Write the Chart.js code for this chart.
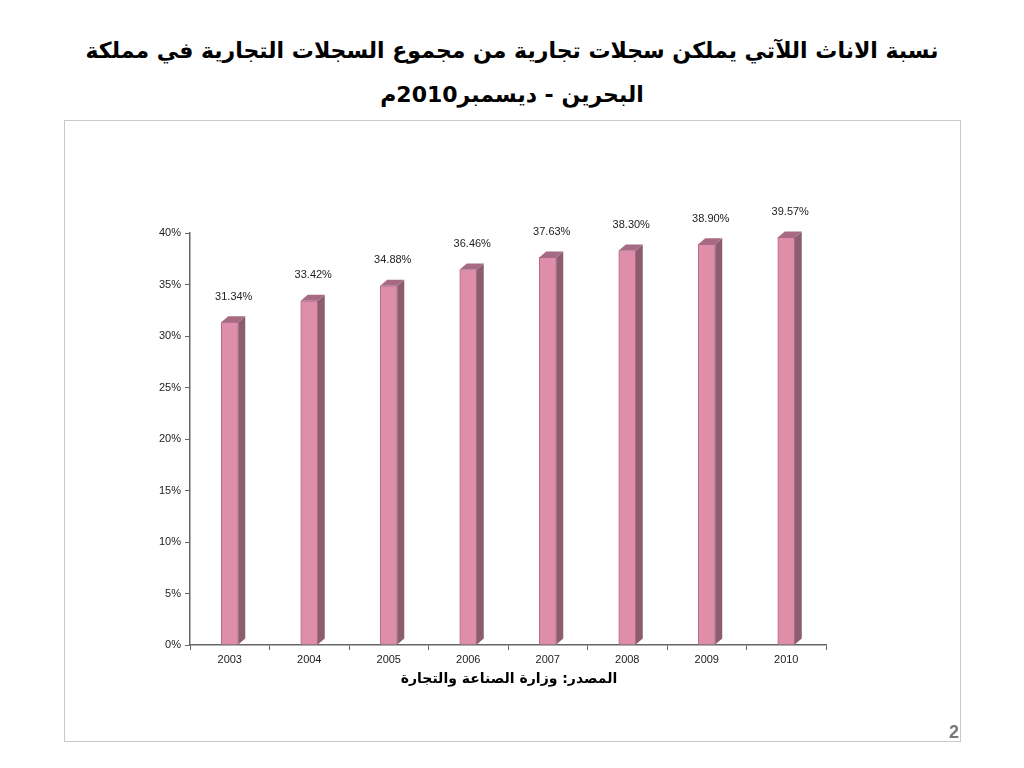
<!DOCTYPE html>
<html>
<head>
<meta charset="utf-8">
<script src="https://cdn.jsdelivr.net/npm/chart.js@4/dist/chart.umd.min.js"></script>
<style>
    html, body { margin: 0; padding: 0; background: #fff; }
    body { width: 1024px; height: 768px; position: relative; overflow: hidden; }
    .title {
        position: absolute; left: 40px; top: 29px; width: 944px;
        text-align: center; direction: rtl;
        font-family: "DejaVu Sans", sans-serif; font-weight: bold;
        font-size: 22px; line-height: 44px; color: #000;
    }
    .frame {
        position: absolute; left: 64px; top: 120px; width: 895px; height: 620px;
        border: 1px solid #c8c8c8;
    }
    #chartWrap { position: absolute; left: 64px; top: 120px; width: 896px; height: 621px; }
    .source {
        position: absolute; left: 300px; top: 670px; width: 418px;
        text-align: center; direction: rtl;
        font-family: "DejaVu Sans", sans-serif; font-weight: bold; font-size: 14px; color: #000;
    }
    .pagenum {
        position: absolute; left: 949px; top: 722px;
        font-family: "Liberation Sans", Arial, sans-serif; font-weight: bold; font-size: 18px; color: #777;
    }
</style>
</head>
<body>
<div class="title">نسبة الاناث اللآتي يملكن سجلات تجارية من مجموع السجلات التجارية في مملكة<br>البحرين - ديسمبر2010م</div>
<div class="frame"></div>
<div id="chartWrap"><canvas id="myChart" width="896" height="621"></canvas></div>
<div class="source">المصدر: وزارة الصناعة والتجارة</div>
<div class="pagenum">2</div>
<script>
const years = ['2003', '2004', '2005', '2006', '2007', '2008', '2009', '2010']
const femaleShare = [31.34, 33.42, 34.88, 36.46, 37.63, 38.30, 38.90, 39.57]
const yTicks = [0, 5, 10, 15, 20, 25, 30, 35, 40]

// fake 3D: side and top faces for each bar
const bar3dPlugin = {
    id: 'bar3d',
    afterDatasetsDraw(chart) {
        const ctx = chart.ctx
        const depthX = 7, depthY = 6
        chart.getDatasetMeta(0).data.forEach((bar) => {
            const half = bar.width / 2
            const left = bar.x - half, right = bar.x + half
            const top = bar.y, base = bar.base
            ctx.save()
            // side
            ctx.fillStyle = '#8c5d70'
            ctx.beginPath()
            ctx.moveTo(right, top)
            ctx.lineTo(right + depthX, top - depthY)
            ctx.lineTo(right + depthX, base - depthY)
            ctx.lineTo(right, base)
            ctx.closePath()
            ctx.fill()
            // top
            ctx.fillStyle = '#a66b82'
            ctx.beginPath()
            ctx.moveTo(left, top)
            ctx.lineTo(left + depthX, top - depthY)
            ctx.lineTo(right + depthX, top - depthY)
            ctx.lineTo(right, top)
            ctx.closePath()
            ctx.fill()
            ctx.restore()
        })
    }
}

const valueLabelPlugin = {
    id: 'valueLabels',
    afterDatasetsDraw(chart) {
        const ctx = chart.ctx
        const values = chart.data.datasets[0].data
        ctx.save()
        ctx.font = '11px "Liberation Sans", Arial, sans-serif'
        ctx.fillStyle = '#222'
        ctx.textAlign = 'center'
        ctx.textBaseline = 'bottom'
        chart.getDatasetMeta(0).data.forEach((bar, i) => {
            ctx.fillText(values[i].toFixed(2) + '%', bar.x + 4, bar.y - 20)
        })
        ctx.restore()
    }
}

const element = document.getElementById('myChart')

const config = {
    type: 'bar',
    data: {
        labels: years,
        datasets: [{
            data: femaleShare,
            backgroundColor: '#df8eaa',
            borderColor: '#b06a86',
            borderWidth: 1,
            borderSkipped: 'bottom',
            barThickness: 17
        }]
    },
    options: {
        responsive: false,
        animation: false,
        layout: {
            padding: {left: 0, top: 113, right: 134, bottom: 66}
        },
        scales: {
            y: {
                min: 0,
                max: 40,
                afterFit: (scale) => { scale.width = 126 },
                afterBuildTicks: (scale) => { scale.ticks = yTicks.map((v) => ({value: v})) },
                grid: {
                    drawOnChartArea: false,
                    tickLength: 5,
                    color: '#666'
                },
                border: {color: '#666', width: 1.5},
                ticks: {
                    color: '#222',
                    padding: 4,
                    font: {family: '"Liberation Sans", Arial, sans-serif', size: 11},
                    callback: (value) => value + '%'
                }
            },
            x: {
                afterFit: (scale) => { scale.height = 30 },
                grid: {
                    drawOnChartArea: false,
                    tickLength: 5,
                    color: '#666'
                },
                border: {color: '#666', width: 1.5},
                ticks: {
                    color: '#222',
                    padding: 3,
                    maxRotation: 0,
                    font: {family: '"Liberation Sans", Arial, sans-serif', size: 11}
                }
            }
        },
        plugins: {
            legend: {display: false},
            tooltip: {enabled: false}
        }
    },
    plugins: [bar3dPlugin, valueLabelPlugin]
}

window.femaleChart = new Chart(element, config)
</script>
</body>
</html>
